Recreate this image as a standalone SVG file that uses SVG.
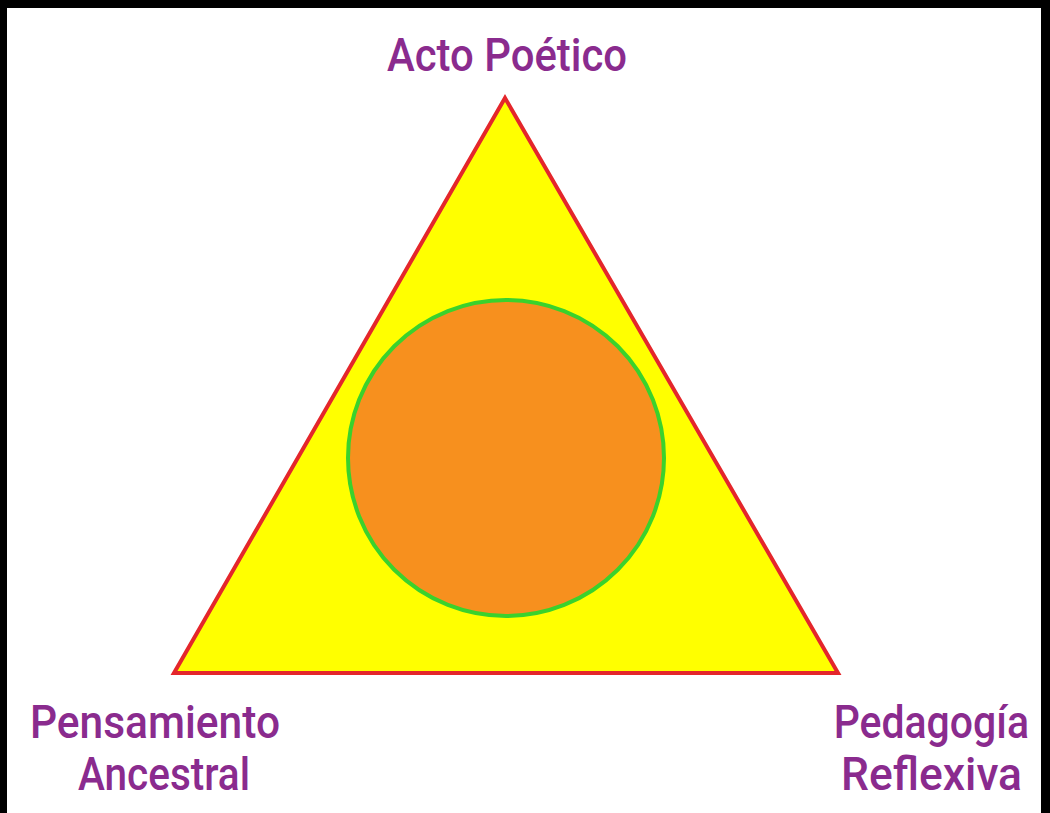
<svg xmlns="http://www.w3.org/2000/svg" width="1050" height="813" viewBox="0 0 1050 813">
<style>
.lbl{font-family:Roboto,"DejaVu Sans",sans-serif;font-size:46px;font-weight:500;fill:#8a2b8e}
.end{text-anchor:end}
</style>
<rect x="0" y="0" width="1050" height="813" fill="#000"/>
<rect x="7" y="8" width="1034" height="805" fill="#fff"/>
<g id="triangle">
<polygon points="505,98 174,673 838,673" fill="#ffff00" stroke="#e4262b" stroke-width="4" stroke-linejoin="miter"/>
</g>
<g id="circle">
<circle cx="506" cy="458" r="158" fill="#f7901e" stroke="#3ad22c" stroke-width="4"/>
</g>
<g id="connectors"></g>
<g id="label-top"><text class="lbl" x="387" y="71" textLength="240" lengthAdjust="spacingAndGlyphs">Acto Poético</text></g>
<g id="label-left">
<text class="lbl" x="30" y="738" textLength="250" lengthAdjust="spacingAndGlyphs">Pensamiento</text>
<text class="lbl" x="78" y="790" textLength="172" lengthAdjust="spacingAndGlyphs">Ancestral</text>
</g>
<g id="label-right">
<text class="lbl end" transform="translate(1029,738) scale(0.89,1)">Pedagogía</text>
<text class="lbl end" x="1022" y="790" textLength="181" lengthAdjust="spacingAndGlyphs">Reflexiva</text>
</g>
</svg>
